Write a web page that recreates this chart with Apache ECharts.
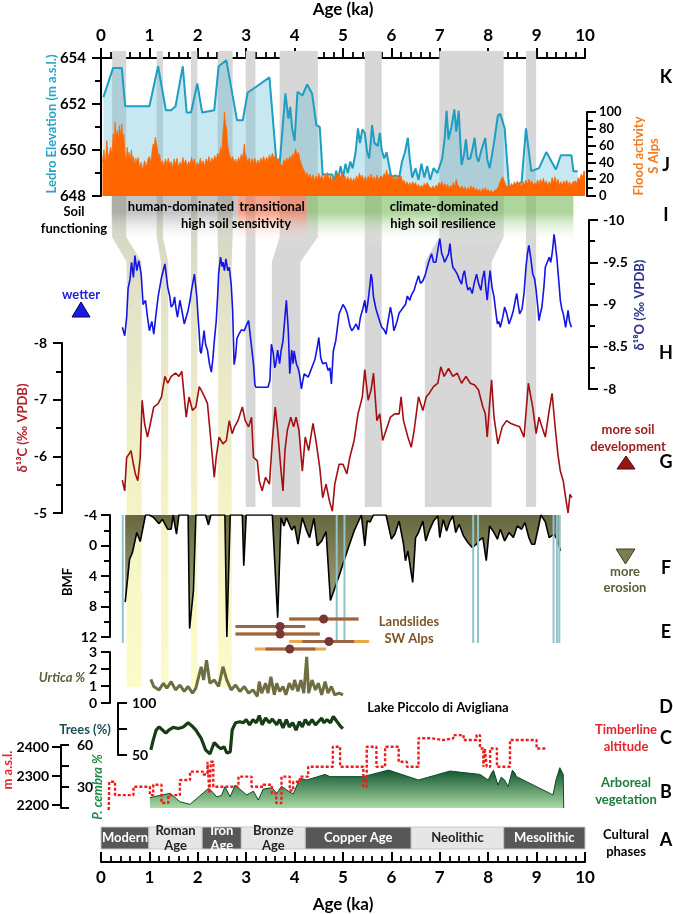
<!DOCTYPE html>
<html><head><meta charset="utf-8">
<script src="https://cdn.jsdelivr.net/npm/echarts@6/dist/echarts.min.js"></script>
<style>html,body{margin:0;padding:0;background:#fff}#c{width:673px;height:914px}</style>
</head><body><div id="c"></div>
<script>
const FONT = 'Lato, "Open Sans", "DejaVu Sans", sans-serif';

// ---------------- DATA ----------------
const ledro = [[0.05,652.3],[0.25,653.57],[0.43,653.57],[0.5,651.9],[1.0,651.9],[1.18,653.64],[1.34,651.73],[1.45,651.73],[1.54,651.9],[1.69,653.64],[1.77,651.63],[1.86,651.63],[1.99,652.89],[2.09,651.63],[2.34,651.73],[2.43,653.64],[2.59,653.9],[2.81,651.29],[2.93,651.29],[3.03,652.5],[3.2,652.74],[3.48,653.16],[3.63,649.35],[3.69,649.35],[3.81,652.46],[3.87,651.36],[3.91,651.87],[3.95,650.94],[4.0,650.39],[4.06,652.53],[4.16,652.37],[4.26,652.85],[4.36,652.46],[4.45,651.08],[4.52,651.0],[4.58,648.94],[4.78,648.94],[4.82,648.6],[4.86,649.1],[4.9,648.7],[4.95,649.3],[5.0,648.8],[5.05,649.4],[5.1,649.0],[5.15,649.5],[5.2,649.2],[5.26,649.9],[5.31,650.94],[5.35,650.3],[5.4,650.9],[5.45,650.74],[5.5,649.9],[5.54,649.63],[5.58,650.5],[5.6,651.08],[5.65,650.3],[5.72,650.18],[5.76,650.74],[5.8,650.0],[5.85,649.63],[5.9,649.9],[5.94,649.84],[6.0,648.8],[6.08,648.9],[6.16,648.8],[6.22,649.5],[6.28,649.9],[6.34,650.53],[6.38,649.6],[6.43,648.8],[6.5,649.2],[6.56,648.7],[6.62,649.4],[6.68,648.8],[6.74,649.3],[6.8,648.7],[6.87,649.21],[6.95,649.0],[7.05,649.63],[7.1,650.5],[7.14,651.7],[7.18,650.46],[7.24,651.0],[7.3,651.77],[7.34,650.8],[7.39,651.7],[7.45,649.35],[7.5,649.8],[7.54,650.46],[7.58,649.6],[7.63,649.63],[7.68,650.1],[7.72,650.53],[7.76,649.7],[7.8,649.49],[7.86,650.0],[7.94,650.53],[7.98,649.6],[8.03,649.21],[8.08,649.8],[8.12,650.32],[8.2,651.5],[8.25,651.57],[8.34,650.94],[8.43,648.38],[8.69,648.59],[8.78,650.94],[8.89,649.08],[9.05,649.21],[9.2,649.91],[9.4,649.15],[9.5,649.77],[9.72,649.77],[9.76,649.08],[9.85,649.08]];

const flood = [[0.03,40],[0.06,55],[0.09,38],[0.12,66],[0.15,45],[0.18,52],[0.2,58],[0.23,48],[0.25,74],[0.27,60],[0.29,88],[0.31,72],[0.34,78],[0.36,65],[0.38,84],[0.41,70],[0.43,86],[0.45,68],[0.47,74],[0.5,47],[0.52,40],[0.54,58],[0.56,45],[0.58,52],[0.6,43],[0.63,55],[0.65,42],[0.67,47],[0.7,36],[0.72,45],[0.74,39],[0.77,46],[0.8,33],[0.83,40],[0.86,31],[0.9,42],[0.94,35],[0.97,44],[1.0,47],[1.03,40],[1.06,55],[1.08,62],[1.1,58],[1.12,70],[1.14,64],[1.16,58],[1.19,46],[1.21,50],[1.24,38],[1.27,42],[1.3,35],[1.33,44],[1.36,38],[1.39,45],[1.42,36],[1.45,41],[1.48,33],[1.51,44],[1.54,37],[1.57,45],[1.6,34],[1.63,40],[1.66,36],[1.69,46],[1.72,38],[1.75,43],[1.78,35],[1.81,41],[1.84,37],[1.87,46],[1.9,39],[1.93,44],[1.96,33],[1.99,40],[2.02,36],[2.05,45],[2.08,38],[2.11,42],[2.14,35],[2.17,44],[2.2,40],[2.23,47],[2.26,39],[2.29,45],[2.32,41],[2.35,48],[2.38,43],[2.41,51],[2.44,46],[2.47,58],[2.5,52],[2.52,74],[2.54,88],[2.55,100],[2.57,86],[2.59,82],[2.61,66],[2.63,55],[2.66,48],[2.69,43],[2.72,47],[2.75,40],[2.78,44],[2.81,38],[2.84,46],[2.87,41],[2.9,50],[2.93,45],[2.96,62],[2.98,50],[3.0,47],[3.03,40],[3.06,45],[3.09,38],[3.12,44],[3.15,40],[3.18,45],[3.21,37],[3.24,43],[3.27,38],[3.3,45],[3.33,41],[3.36,47],[3.39,40],[3.42,46],[3.45,42],[3.48,49],[3.51,44],[3.54,51],[3.57,45],[3.6,48],[3.63,42],[3.66,45],[3.69,38],[3.72,40],[3.75,36],[3.78,43],[3.81,40],[3.84,45],[3.87,42],[3.9,47],[3.93,44],[3.96,50],[3.99,47],[4.02,56],[4.05,49],[4.08,52],[4.11,43],[4.14,38],[4.17,33],[4.2,30],[4.23,24],[4.26,28],[4.29,21],[4.32,26],[4.35,20],[4.38,25],[4.41,18],[4.44,24],[4.47,19],[4.5,27],[4.53,20],[4.56,25],[4.59,18],[4.62,26],[4.65,21],[4.68,28],[4.71,19],[4.74,24],[4.77,17],[4.8,23],[4.83,18],[4.86,26],[4.89,20],[4.92,27],[4.95,21],[4.98,28],[5.01,19],[5.04,24],[5.07,18],[5.1,23],[5.13,17],[5.16,22],[5.19,16],[5.22,21],[5.25,17],[5.28,24],[5.31,19],[5.34,27],[5.37,21],[5.4,25],[5.43,18],[5.46,23],[5.49,17],[5.52,24],[5.55,20],[5.58,26],[5.61,19],[5.64,23],[5.67,18],[5.7,25],[5.73,20],[5.76,19],[5.79,24],[5.82,21],[5.85,27],[5.88,24],[5.9,31],[5.93,23],[5.96,27],[5.99,20],[6.02,25],[6.05,18],[6.08,23],[6.11,19],[6.14,25],[6.17,20],[6.2,24],[6.23,16],[6.26,19],[6.29,13],[6.32,17],[6.35,12],[6.38,16],[6.41,12],[6.44,17],[6.47,13],[6.5,16],[6.53,10],[6.56,14],[6.59,9],[6.62,13],[6.65,10],[6.68,15],[6.71,11],[6.74,16],[6.77,12],[6.8,14],[6.83,9],[6.86,12],[6.89,8],[6.92,13],[6.95,10],[6.98,16],[7.01,12],[7.04,17],[7.07,11],[7.1,15],[7.13,10],[7.16,14],[7.19,8],[7.22,13],[7.25,9],[7.28,16],[7.31,11],[7.34,20],[7.37,13],[7.4,15],[7.43,9],[7.46,12],[7.49,7],[7.52,11],[7.55,6],[7.58,10],[7.61,7],[7.64,12],[7.67,8],[7.7,11],[7.73,6],[7.76,9],[7.79,5],[7.82,8],[7.85,4],[7.88,9],[7.91,6],[7.94,10],[7.97,5],[8.0,8],[8.03,4],[8.06,7],[8.09,3],[8.12,6],[8.15,4],[8.18,8],[8.21,11],[8.24,16],[8.27,20],[8.3,23],[8.33,18],[8.36,14],[8.39,10],[8.42,13],[8.45,9],[8.48,15],[8.51,11],[8.54,17],[8.57,12],[8.6,18],[8.63,13],[8.66,16],[8.69,11],[8.72,17],[8.75,13],[8.78,19],[8.81,14],[8.84,20],[8.87,15],[8.9,18],[8.93,12],[8.96,16],[8.99,13],[9.02,19],[9.05,14],[9.08,20],[9.11,15],[9.14,21],[9.17,14],[9.2,18],[9.23,12],[9.26,17],[9.29,13],[9.32,22],[9.35,16],[9.38,23],[9.41,15],[9.44,20],[9.47,13],[9.5,17],[9.53,12],[9.56,18],[9.59,14],[9.62,19],[9.65,13],[9.68,17],[9.71,12],[9.74,16],[9.77,14],[9.8,18],[9.83,15],[9.86,22],[9.89,19],[9.92,26],[9.95,22],[9.98,30],[10.0,27]];

const d18O = [[0.44,-8.73],[0.49,-8.63],[0.53,-8.85],[0.56,-9.19],[0.6,-9.3],[0.63,-9.5],[0.67,-9.32],[0.7,-9.58],[0.74,-9.4],[0.78,-9.52],[0.83,-9.36],[0.87,-9.0],[0.92,-9.05],[0.96,-8.85],[1.0,-8.69],[1.05,-8.8],[1.09,-8.65],[1.14,-8.9],[1.18,-9.09],[1.25,-9.32],[1.32,-9.48],[1.38,-9.2],[1.42,-9.1],[1.45,-8.97],[1.49,-9.0],[1.52,-9.09],[1.55,-8.95],[1.58,-8.85],[1.63,-9.05],[1.68,-8.9],[1.72,-8.77],[1.76,-8.85],[1.8,-8.93],[1.84,-9.05],[1.87,-9.17],[1.93,-9.36],[1.98,-9.09],[2.0,-8.9],[2.03,-8.65],[2.05,-8.45],[2.07,-8.42],[2.1,-8.55],[2.13,-8.69],[2.16,-8.53],[2.2,-8.46],[2.24,-8.3],[2.28,-8.2],[2.31,-8.35],[2.34,-8.56],[2.38,-8.8],[2.41,-9.1],[2.43,-9.36],[2.47,-9.56],[2.5,-9.45],[2.52,-9.5],[2.55,-9.4],[2.58,-9.54],[2.62,-9.4],[2.65,-9.44],[2.69,-9.24],[2.72,-8.93],[2.75,-8.29],[2.78,-8.39],[2.81,-8.6],[2.85,-8.65],[2.9,-8.7],[2.96,-8.69],[3.0,-8.75],[3.05,-8.81],[3.08,-8.65],[3.11,-8.5],[3.15,-8.3],[3.18,-8.05],[3.2,-8.02],[3.45,-8.02],[3.49,-8.1],[3.52,-8.53],[3.56,-8.42],[3.59,-8.25],[3.61,-8.29],[3.65,-8.46],[3.69,-8.3],[3.72,-8.45],[3.76,-8.57],[3.8,-8.85],[3.83,-9.05],[3.87,-8.69],[3.9,-8.18],[3.94,-8.46],[3.97,-8.3],[3.99,-8.45],[4.02,-8.35],[4.04,-8.29],[4.07,-8.25],[4.1,-8.18],[4.14,-8.0],[4.17,-8.1],[4.2,-8.18],[4.24,-8.2],[4.28,-8.14],[4.32,-8.2],[4.38,-8.29],[4.42,-8.35],[4.47,-8.5],[4.5,-8.61],[4.54,-8.37],[4.58,-8.3],[4.62,-8.29],[4.65,-8.31],[4.69,-8.22],[4.73,-8.25],[4.76,-8.06],[4.8,-8.45],[4.85,-8.57],[4.92,-8.89],[5.0,-9.0],[5.05,-8.95],[5.09,-8.89],[5.14,-8.75],[5.18,-8.69],[5.22,-8.72],[5.27,-8.77],[5.32,-8.7],[5.36,-8.85],[5.41,-8.95],[5.45,-9.05],[5.48,-8.9],[5.52,-9.05],[5.55,-9.2],[5.58,-9.36],[5.6,-9.3],[5.63,-9.09],[5.68,-8.95],[5.72,-8.93],[5.76,-8.8],[5.8,-8.73],[5.85,-8.7],[5.89,-8.65],[5.93,-8.8],[5.98,-8.97],[6.02,-8.85],[6.05,-8.69],[6.09,-8.75],[6.12,-8.81],[6.16,-8.9],[6.2,-8.93],[6.25,-8.97],[6.29,-9.0],[6.33,-9.1],[6.38,-9.05],[6.42,-9.12],[6.47,-9.17],[6.51,-9.25],[6.56,-9.34],[6.6,-9.25],[6.65,-9.28],[6.7,-9.35],[6.74,-9.44],[6.78,-9.52],[6.83,-9.6],[6.87,-9.5],[6.92,-9.5],[6.96,-9.65],[7.0,-9.78],[7.04,-9.6],[7.07,-9.56],[7.1,-9.5],[7.14,-9.5],[7.18,-9.6],[7.21,-9.72],[7.24,-9.55],[7.27,-9.44],[7.32,-9.4],[7.36,-9.36],[7.4,-9.3],[7.45,-9.24],[7.48,-9.35],[7.51,-9.4],[7.55,-9.25],[7.58,-9.17],[7.62,-9.2],[7.67,-9.13],[7.71,-9.25],[7.76,-9.36],[7.8,-9.25],[7.85,-9.17],[7.88,-9.3],[7.92,-9.4],[7.95,-9.2],[7.98,-9.05],[8.01,-9.25],[8.04,-9.4],[8.08,-9.2],[8.12,-9.09],[8.16,-8.9],[8.19,-8.77],[8.22,-8.8],[8.25,-8.73],[8.3,-8.85],[8.34,-8.97],[8.38,-8.9],[8.43,-8.77],[8.48,-8.85],[8.52,-8.93],[8.56,-9.05],[8.59,-9.13],[8.62,-9.0],[8.65,-8.89],[8.7,-8.95],[8.74,-9.13],[8.78,-9.44],[8.81,-9.6],[8.84,-9.7],[8.88,-9.55],[8.92,-9.36],[8.96,-9.3],[8.99,-9.17],[9.02,-9.0],[9.05,-8.81],[9.08,-8.9],[9.11,-8.97],[9.15,-9.2],[9.18,-9.44],[9.22,-9.5],[9.26,-9.56],[9.29,-9.5],[9.32,-9.6],[9.34,-9.7],[9.36,-9.83],[9.38,-9.75],[9.4,-9.64],[9.42,-9.55],[9.44,-9.4],[9.47,-9.2],[9.49,-9.05],[9.52,-8.95],[9.55,-8.89],[9.58,-8.8],[9.6,-8.73],[9.63,-8.85],[9.65,-8.93],[9.68,-8.8],[9.72,-8.73]];

const d13C = [[0.44,-5.58],[0.49,-5.39],[0.53,-5.98],[0.58,-6.04],[0.62,-6.1],[0.67,-5.86],[0.71,-5.69],[0.76,-5.57],[0.81,-5.98],[0.85,-6.99],[0.9,-6.58],[0.96,-6.34],[1.02,-6.58],[1.09,-6.87],[1.18,-6.93],[1.25,-7.05],[1.32,-7.41],[1.38,-7.29],[1.45,-7.41],[1.54,-7.47],[1.61,-7.41],[1.67,-7.5],[1.72,-7.05],[1.76,-6.69],[1.82,-7.05],[1.89,-6.81],[1.96,-6.87],[2.03,-7.23],[2.07,-7.17],[2.14,-7.05],[2.2,-6.93],[2.27,-6.28],[2.34,-5.63],[2.38,-5.98],[2.44,-6.34],[2.52,-6.22],[2.59,-6.28],[2.65,-6.63],[2.71,-6.4],[2.76,-6.52],[2.83,-6.63],[2.92,-6.87],[2.98,-6.63],[3.05,-6.52],[3.11,-6.69],[3.15,-5.98],[3.23,-5.92],[3.27,-5.57],[3.33,-5.39],[3.4,-5.63],[3.48,-5.51],[3.54,-6.28],[3.6,-6.87],[3.65,-6.46],[3.72,-5.74],[3.76,-5.39],[3.8,-6.1],[3.85,-6.46],[3.92,-6.69],[3.98,-6.52],[4.03,-6.69],[4.09,-6.46],[4.16,-5.74],[4.22,-6.34],[4.29,-6.1],[4.38,-6.58],[4.44,-6.28],[4.52,-5.8],[4.58,-5.27],[4.65,-5.51],[4.72,-5.21],[4.78,-5.03],[4.83,-5.51],[4.92,-5.86],[5.0,-5.86],[5.08,-5.69],[5.14,-5.98],[5.23,-6.28],[5.31,-6.75],[5.4,-7.05],[5.45,-7.53],[5.52,-6.99],[5.58,-7.17],[5.63,-7.47],[5.7,-6.63],[5.76,-6.75],[5.82,-6.28],[5.89,-6.46],[5.98,-6.69],[6.07,-6.75],[6.16,-6.75],[6.2,-7.05],[6.25,-6.63],[6.34,-6.34],[6.41,-6.16],[6.47,-6.46],[6.56,-7.05],[6.65,-6.81],[6.72,-7.05],[6.78,-7.11],[6.87,-7.23],[6.96,-7.29],[7.02,-7.58],[7.09,-7.41],[7.18,-7.55],[7.27,-7.41],[7.36,-7.47],[7.45,-7.29],[7.54,-7.41],[7.63,-7.29],[7.72,-7.26],[7.8,-7.17],[7.89,-6.87],[7.94,-6.75],[7.98,-6.34],[8.03,-6.93],[8.07,-7.35],[8.12,-6.69],[8.2,-6.22],[8.29,-6.52],[8.38,-6.63],[8.47,-6.58],[8.56,-6.55],[8.65,-6.52],[8.74,-6.34],[8.83,-7.29],[8.92,-6.87],[8.99,-6.4],[9.05,-6.69],[9.11,-6.52],[9.18,-6.34],[9.26,-6.81],[9.32,-7.11],[9.39,-6.46],[9.44,-6.04],[9.49,-5.74],[9.55,-5.57],[9.6,-5.27],[9.65,-5.0],[9.69,-5.33],[9.73,-5.27]];

const bmf = [[0.5,7.43],[0.59,1.78],[0.65,0.91],[0.74,-1.7],[0.81,-0.52],[0.92,-4],[1.0,-4],[1.09,-3.65],[1.2,-2.87],[1.27,-3.43],[1.38,-2.13],[1.45,-2.13],[1.49,-4],[1.53,-4],[1.56,-1.48],[1.61,-4],[1.8,-4],[1.83,10.9],[1.91,5.9],[1.96,-4],[2.16,-4],[2.22,-2.7],[2.27,-4],[2.56,-4],[2.6,12],[2.67,-4],[2.92,-4],[2.95,2.65],[3.0,-4],[3.54,-4],[3.65,9.48],[3.72,-3.65],[3.78,-2.57],[3.83,-3.65],[3.94,-2.04],[4.0,-2.57],[4.07,-0.17],[4.16,-3.65],[4.25,-1.91],[4.31,-1.04],[4.4,-3.57],[4.47,0.04],[4.56,-0.61],[4.65,-1.83],[4.74,7.2],[4.92,3.96],[5.1,0.48],[5.23,-1.91],[5.38,-4],[5.45,0.04],[5.5,-3.2],[5.56,-3.1],[5.63,-4],[5.89,-4],[6.0,-0.83],[6.07,-1.48],[6.16,-3.2],[6.25,-0.17],[6.29,2.0],[6.34,0.7],[6.44,4.83],[6.5,-1.04],[6.56,-1.7],[6.65,-3.2],[6.71,-0.6],[6.78,-1.9],[6.87,-3.2],[6.96,-3.87],[7.0,-1.04],[7.07,-3.4],[7.14,-1.9],[7.21,-3.2],[7.27,-3.87],[7.33,-1.7],[7.4,-2.78],[7.49,-1.26],[7.58,-0.39],[7.67,0.26],[7.76,-0.17],[7.8,-0.61],[7.89,-1.04],[7.96,2.0],[8.03,-2.57],[8.12,-1.7],[8.19,-0.83],[8.25,-2.13],[8.34,-0.61],[8.43,-1.7],[8.52,-1.04],[8.6,-2.57],[8.69,-2.13],[8.76,-3.0],[8.84,-1.04],[8.9,-0.17],[8.96,-0.17],[9.02,-1.9],[9.09,-4],[9.18,-3.1],[9.26,-1.04],[9.36,-1.48],[9.44,-0.61],[9.49,0.7]];

const urtica = [[1.03,1.39],[1.09,0.97],[1.2,0.77],[1.29,1.16],[1.36,0.87],[1.45,1.26],[1.54,0.77],[1.63,1.06],[1.72,0.68],[1.8,0.97],[1.89,0.58],[1.96,0.87],[2.0,1.35],[2.07,2.13],[2.12,1.35],[2.18,2.51],[2.25,1.16],[2.34,1.35],[2.43,0.97],[2.52,2.13],[2.6,1.35],[2.69,0.77],[2.78,1.06],[2.87,0.68],[2.96,0.97],[3.05,0.58],[3.14,0.77],[3.23,0.39],[3.27,1.26],[3.32,0.58],[3.4,1.16],[3.45,0.58],[3.51,1.55],[3.58,0.48],[3.63,1.16],[3.69,0.68],[3.76,0.97],[3.82,0.48],[3.89,1.16],[3.96,0.77],[4.0,1.35],[4.07,0.68],[4.13,1.35],[4.19,0.58],[4.25,2.71],[4.29,0.58],[4.36,1.35],[4.43,0.77],[4.49,1.16],[4.56,0.48],[4.63,1.26],[4.69,0.58],[4.76,0.97],[4.83,0.48],[4.92,0.58],[5.0,0.48]];

const trees = [[1.03,55],[1.08,64.5],[1.14,74],[1.2,77],[1.27,74],[1.34,71],[1.4,74],[1.49,76.5],[1.6,75.5],[1.7,77],[1.8,81],[1.88,78],[1.96,74],[2.07,66],[2.16,55],[2.25,51],[2.34,62],[2.42,58],[2.48,56],[2.54,58],[2.6,52],[2.67,53],[2.71,74],[2.78,81],[2.87,82],[2.94,81],[3.0,84],[3.07,79],[3.14,84],[3.21,81],[3.27,88],[3.33,79],[3.4,85.5],[3.48,81],[3.54,84.5],[3.63,79],[3.69,84],[3.76,76],[3.83,84],[3.89,77],[3.96,81],[4.03,74],[4.1,82],[4.16,77],[4.22,84],[4.29,79],[4.36,84],[4.43,79],[4.49,82],[4.56,85.5],[4.6,81],[4.67,84],[4.74,81],[4.8,87],[4.87,82.5],[4.96,77],[5.0,75.5]];

const timberline = [[0.16,2183],[0.17,2280],[0.29,2234],[0.67,2263],[1.01,2234],[1.08,2270],[1.25,2207],[1.39,2234],[1.63,2286],[1.84,2315],[2.11,2305],[2.2,2349],[2.24,2240],[2.27,2349],[2.32,2263],[2.84,2298],[3.11,2263],[3.35,2270],[3.53,2240],[3.62,2207],[3.73,2298],[3.9,2250],[3.97,2280],[4.11,2298],[4.28,2332],[4.79,2401],[4.94,2332],[5.42,2263],[5.49,2401],[5.69,2332],[5.87,2401],[6.15,2349],[6.32,2332],[6.56,2430],[6.83,2424],[7.07,2430],[7.28,2441],[7.49,2424],[7.76,2441],[7.83,2395],[7.9,2332],[7.93,2395],[7.97,2332],[8.04,2395],[8.18,2332],[8.45,2424],[9.0,2395],[9.2,2395]];

const pCembra = [[1.01,22.4],[1.43,25.5],[1.63,19.5],[1.84,17.6],[2.22,29],[2.29,27],[2.39,23],[2.49,24],[2.56,30.2],[2.67,23],[2.77,31.4],[3.01,24.3],[3.15,27],[3.25,20.7],[3.35,28.5],[3.53,29.5],[3.63,25.5],[3.73,30.5],[3.87,27],[3.97,25],[4.11,36.2],[4.25,35],[4.63,39],[4.73,37.4],[5.42,37.4],[5.94,42.1],[6.56,35],[7.21,41.4],[7.83,39],[8.0,35],[8.07,40],[8.11,42],[8.17,35],[8.2,31.4],[8.27,37],[8.34,35],[8.41,30.2],[8.5,42],[8.55,40],[8.58,37.5],[9.34,24.3],[9.4,35],[9.48,43.8],[9.55,39],[9.56,15]];

const landslideMid = [4.6, 3.7, 3.7, 4.71, 3.9];
const landslideOuterLo = [3.89, 2.78, 2.78, 3.89, 3.18];
const landslideOuterHi = [5.32, 4.22, 4.52, 5.54, 4.65];
const landslideInnerLo = [3.89, 2.78, 2.78, 4.16, 3.4];
const landslideInnerHi = [5.32, 4.22, 4.52, 5.23, 4.43];

const cultStart = [0, 0.99, 2.09, 2.9, 4.22, 6.41, 8.32];
const cultEnd = [0.99, 2.09, 2.9, 4.22, 6.41, 8.32, 10];
const cultName = ['Modern', 'Roman\nAge', 'Iron\nAge', 'Bronze\nAge', 'Copper Age', 'Neolithic', 'Mesolithic'];
const cultDark = [1, 0, 1, 0, 1, 0, 1];

const soilStart = [0.22, 2.83, 4.25];
const soilEnd = [2.83, 4.25, 9.76];
const soilColor = ['rgba(140,140,140,0.5)', 'rgba(240,105,65,0.6)', 'rgba(120,185,90,0.6)'];

const grayK1 = [2.99, 3.69, 5.45, 6.99, 8.78], grayK2 = [3.19, 4.48, 5.80, 8.32, 8.99];
const grayH1 = [2.99, 3.53, 5.45, 6.69, 8.78], grayH2 = [3.19, 4.12, 5.80, 8.07, 8.99];
const yellowK1 = [0.23, 1.15, 1.86, 2.41], yellowK2 = [0.52, 1.28, 1.99, 2.72];
const yellowH1 = [0.53, 1.24, 1.86, 2.42], yellowH2 = [0.84, 1.39, 1.99, 2.70];
const cyanLines = [0.45, 4.87, 5.03, 7.69, 7.79, 9.35, 9.42, 9.47];

// ---------------- LAYOUT ----------------
const L = 101, R = 88;
const gridDefs = [
  [0, 914],     // 0 overlay
  [51, 145],    // 1 K Ledro
  [112, 84],    // 2 J flood
  [220, 169],   // 3 H d18O
  [343, 170],   // 4 G d13C
  [515, 122],   // 5 F BMF
  [615.25, 37.5], // 6 E landslides
  [652, 51],    // 7 D urtica
  [703, 52],    // 8 C trees
  [747, 58],    // 9 timberline
  [745, 63],    // 10 P cembra
  [827, 30]     // 11 cultural
];
const grids = gridDefs.map(g => ({left: L, right: R, top: g[0], height: g[1]}));

const BLK = '#000';
function ax(o) {
  return {
    gridIndex: o.g, type: 'value', min: o.min, max: o.max, interval: o.interval,
    position: o.position || 'left', inverse: !!o.inverse, offset: o.offset || 0,
    splitLine: {show: false},
    axisLine: {show: true, onZero: false, lineStyle: {color: BLK, width: 2}},
    axisTick: {show: true, inside: !!o.inside, length: o.tickLen || 9, lineStyle: {color: BLK, width: 2}},
    minorTick: {show: !!o.minor, splitNumber: o.minor || 5, length: o.minorLen || 6, lineStyle: {color: BLK, width: 2}},
    axisLabel: {show: true, inside: !!o.inside, margin: o.margin || 12, color: BLK, fontSize: o.fs || 14,
      fontWeight: 'bold', fontFamily: FONT, formatter: o.formatter || (v => String(v))}
  };
}

const xAxes = grids.map((g, i) => ({gridIndex: i, type: 'value', min: 0, max: 10, show: false}));
const xCommon = {
  type: 'value', min: 0, max: 10, interval: 1,
  splitLine: {show: false},
  axisLine: {show: true, onZero: false, lineStyle: {color: BLK, width: 2}},
  minorTick: {show: true, splitNumber: 5, length: 6, lineStyle: {color: BLK, width: 1.8}},
  nameLocation: 'middle',
  nameTextStyle: {fontSize: 17, fontWeight: 'bold', fontFamily: FONT, color: BLK},
  name: 'Age (ka)'
};
xAxes[1] = Object.assign({}, xCommon, {
  gridIndex: 1, position: 'top', show: true,
  axisTick: {show: true, length: 10, lineStyle: {color: BLK, width: 2}},
  axisLabel: {margin: 14, fontSize: 17, fontWeight: 'bold', fontFamily: FONT, color: BLK},
  nameGap: 40
});
xAxes[11] = Object.assign({}, xCommon, {
  gridIndex: 11, position: 'bottom', offset: 13, show: true,
  axisTick: {show: true, inside: true, length: 10, lineStyle: {color: BLK, width: 2}},
  minorTick: {show: true, splitNumber: 5, length: 6, lineStyle: {color: BLK, width: 1.8}},
  axisLabel: {margin: 7, fontSize: 17, fontWeight: 'bold', fontFamily: FONT, color: BLK},
  nameGap: 34
});

const yAxes = [
  {gridIndex: 0, type: 'value', min: 0, max: 914, inverse: true, show: false},
  ax({g: 1, min: 648, max: 654, interval: 2, minor: 2, margin: 15, fs: 15}),
  ax({g: 2, min: 0, max: 100, interval: 20, minor: 2, position: 'right', offset: 2, margin: 12, fs: 13}),
  ax({g: 3, min: -10, max: -8, interval: 0.5, minor: 2, position: 'right', inverse: true, offset: 4, margin: 14}),
  ax({g: 4, min: -8, max: -5, interval: 1, minor: 2, inverse: true, offset: 39, margin: 15}),
  ax({g: 5, min: -4, max: 12, interval: 4, minor: 2, inverse: true, offset: -9, margin: 13}),
  {gridIndex: 6, type: 'value', min: -0.5, max: 4.5, inverse: true, show: false},
  ax({g: 7, min: 0, max: 3, interval: 1, offset: -9, margin: 13}),
  ax({g: 8, min: 50, max: 100, interval: 25, offset: -17, inside: true, margin: 14,
      formatter: v => (v === 75 ? '' : String(v))}),
  ax({g: 9, min: 2200, max: 2400, interval: 100, offset: 40, margin: 12}),
  ax({g: 10, min: 15, max: 60, interval: 15, offset: 40, inside: true, tickLen: 8, margin: 16,
      formatter: v => ((v === 30 || v === 60) ? String(v) : '')}),
  {gridIndex: 11, type: 'value', min: 0, max: 1, show: false}
];

const G = echarts.graphic;
// ---------------- SERIES ----------------
const series = [];

// gray climate bands (K -> H/G)
series.push({
  type: 'custom', xAxisIndex: 0, yAxisIndex: 0, z: 1, silent: true,
  data: grayK1.map((v, i) => [v, grayK2[i], grayH1[i], grayH2[i]]),
  renderItem: (p, api) => {
    const a1 = api.value(0), b1 = api.value(1), a2 = api.value(2), b2 = api.value(3);
    const P = (x, y) => api.coord([x, y]);
    return {type: 'polygon', shape: {points: [P(a1, 51), P(b1, 51), P(b1, 237), P(b2, 262), P(b2, 507), P(a2, 507), P(a2, 262), P(a1, 237)]},
      style: {fill: '#d7d7d7'}};
  }
});
// yellow (human) bands
series.push({
  type: 'custom', xAxisIndex: 0, yAxisIndex: 0, z: 1, silent: true,
  data: yellowK1.map((v, i) => [v, yellowK2[i], yellowH1[i], yellowH2[i]]),
  renderItem: (p, api) => {
    const a1 = api.value(0), b1 = api.value(1), a2 = api.value(2), b2 = api.value(3);
    const P = (x, y) => api.coord([x, y]);
    return {type: 'group', children: [
      {type: 'polygon', shape: {points: [P(a1, 51), P(b1, 51), P(b1, 197), P(a1, 197)]}, style: {fill: '#d7d7d7'}},
      {type: 'polygon', shape: {points: [P(a1, 196), P(b1, 196), P(b1, 237), P(b2, 262), P(b2, 687), P(a2, 687), P(a2, 262), P(a1, 237)]},
        style: {fill: new G.LinearGradient(0, 0, 0, 1, [
          {offset: 0, color: '#cfcfc2'}, {offset: 0.2, color: '#e2e2c9'}, {offset: 0.55, color: '#f1f1c6'}, {offset: 1, color: '#fcfcc9'}])}}
    ]};
  }
});
// soil functioning band
series.push({
  type: 'custom', xAxisIndex: 0, yAxisIndex: 0, z: 1, silent: true,
  data: soilStart.map((v, i) => [v, soilEnd[i], i]),
  renderItem: (p, api) => {
    const s = api.value(0), e = api.value(1), k = api.value(2);
    const p0 = api.coord([s, 196]), p1 = api.coord([e, 244]);
    return {type: 'rect', shape: {x: p0[0], y: p0[1], width: p1[0] - p0[0], height: p1[1] - p0[1]},
      style: {fill: new G.LinearGradient(0, 0, 0, 1, [{offset: 0, color: soilColor[k]}, {offset: 0.35, color: soilColor[k]}, {offset: 1, color: 'rgba(255,255,255,0)'}])}};
  }
});

// K Ledro
series.push({type: 'line', xAxisIndex: 1, yAxisIndex: 1, z: 3, data: ledro, symbol: 'none', silent: true,
  lineStyle: {color: '#1e9ec2', width: 2}, areaStyle: {color: 'rgba(95,190,216,0.5)', origin: 'start'}});
// J flood
series.push({type: 'line', xAxisIndex: 2, yAxisIndex: 2, z: 4, data: flood, symbol: 'none', silent: true,
  lineStyle: {color: '#ff6600', width: 0.8}, areaStyle: {color: '#ff6600', opacity: 1, origin: 'start'}});
// H d18O
series.push({type: 'line', xAxisIndex: 3, yAxisIndex: 3, z: 3, data: d18O, symbol: 'none', silent: true,
  lineStyle: {color: '#1414e6', width: 1.6}});
// G d13C
series.push({type: 'line', xAxisIndex: 4, yAxisIndex: 4, z: 3, data: d13C, symbol: 'none', silent: true,
  lineStyle: {color: '#a30f12', width: 1.6}});
// F BMF
series.push({type: 'line', xAxisIndex: 5, yAxisIndex: 5, z: 3, data: bmf, symbol: 'none', silent: true,
  lineStyle: {color: '#000', width: 1.6},
  areaStyle: {origin: 'start', opacity: 1, color: new G.LinearGradient(0, 0, 0, 1, [{offset: 0, color: '#67673f'}, {offset: 1, color: '#b4b48f'}])}});
// cyan lines in F
series.push({
  type: 'custom', xAxisIndex: 0, yAxisIndex: 0, z: 5, silent: true,
  data: cyanLines.map(v => [v]),
  renderItem: (p, api) => {
    const a = api.coord([api.value(0), 515]), b = api.coord([api.value(0), 643]);
    return {type: 'line', shape: {x1: a[0], y1: a[1], x2: b[0], y2: b[1]}, style: {stroke: '#8fc4cb', lineWidth: 2}};
  }
});
// E landslides
series.push({
  type: 'custom', xAxisIndex: 6, yAxisIndex: 6, z: 5, silent: true,
  data: landslideMid.map((m, i) => [m, i, landslideOuterLo[i], landslideOuterHi[i], landslideInnerLo[i], landslideInnerHi[i]]),
  renderItem: (p, api) => {
    const row = api.value(1);
    const c = api.coord([api.value(0), row]);
    const o1 = api.coord([api.value(2), row]), o2 = api.coord([api.value(3), row]);
    const i1 = api.coord([api.value(4), row]), i2 = api.coord([api.value(5), row]);
    return {type: 'group', children: [
      {type: 'line', shape: {x1: o1[0], y1: o1[1], x2: o2[0], y2: o2[1]}, style: {stroke: '#eaa84a', lineWidth: 3}},
      {type: 'line', shape: {x1: i1[0], y1: i1[1], x2: i2[0], y2: i2[1]}, style: {stroke: '#9a6644', lineWidth: 3}},
      {type: 'circle', shape: {cx: c[0], cy: c[1], r: 4.5}, style: {fill: '#7a3535'}}
    ]};
  }
});
// D Urtica
series.push({type: 'line', xAxisIndex: 7, yAxisIndex: 7, z: 3, data: urtica, symbol: 'none', silent: true,
  lineStyle: {color: '#6e6e42', width: 3}});
// C Trees
series.push({type: 'line', xAxisIndex: 8, yAxisIndex: 8, z: 3, data: trees, symbol: 'none', silent: true,
  lineStyle: {color: '#173d17', width: 3.2}});
// B Arboreal (P. cembra)
series.push({type: 'line', xAxisIndex: 10, yAxisIndex: 10, z: 2, data: pCembra, symbol: 'none', silent: true,
  lineStyle: {color: '#0b4a27', width: 1},
  areaStyle: {origin: 'start', opacity: 1, color: new G.LinearGradient(0, 0, 0, 1, [{offset: 0, color: '#0b4d29'}, {offset: 1, color: '#a9dba4'}])}});
// Timberline
series.push({type: 'line', xAxisIndex: 9, yAxisIndex: 9, z: 4, data: timberline, step: 'end', symbol: 'none', silent: true,
  clip: false, lineStyle: {color: '#f01c1c', width: 2.4, type: [3, 2]}});
// A Cultural phases
series.push({
  type: 'custom', xAxisIndex: 11, yAxisIndex: 11, z: 3, silent: true,
  data: cultStart.map((s, i) => [s, cultEnd[i], i]),
  renderItem: (p, api) => {
    const i = api.value(2);
    const p0 = api.coord([api.value(0), 1]), p1 = api.coord([api.value(1), 0]);
    const dark = cultDark[i] === 1;
    return {type: 'group', children: [
      {type: 'rect', shape: {x: p0[0], y: p0[1], width: p1[0] - p0[0], height: p1[1] - p0[1]},
        style: {fill: dark ? '#575757' : '#e6e6e6', stroke: '#c8c8c8', lineWidth: 1}},
      {type: 'text', x: (p0[0] + p1[0]) / 2, y: (p0[1] + p1[1]) / 2,
        style: {text: cultName[i], align: 'center', verticalAlign: 'middle', textAlign: 'center', textVerticalAlign: 'middle',
          fill: dark ? '#fff' : '#222', fontSize: 13, fontWeight: 'bold', fontFamily: FONT, lineHeight: 15}}
    ]};
  }
});

// ---------------- ANNOTATIONS ----------------
function T(text, x, y, o) {
  o = o || {};
  return {type: 'text', x: x, y: y, z: 100, rotation: o.rot || 0, silent: true,
    style: {text: text, align: 'center', verticalAlign: 'middle', textAlign: 'center', textVerticalAlign: 'middle',
      fill: o.color || '#000', fontSize: o.size || 13, fontWeight: o.weight || 'bold', fontStyle: o.italic ? 'italic' : 'normal',
      fontFamily: FONT}};
}
const ROT = Math.PI / 2;
const graphics = [
  T('Ledro Elevation (m a.s.l.)', 52, 124, {rot: ROT, color: '#27a4c6'}),
  T('Flood activity', 639, 156, {rot: ROT, color: '#f07b20'}),
  T('S Alps', 654, 156, {rot: ROT, color: '#f07b20'}),
  T('δ¹⁸O (‰ VPDB)', 640, 305, {rot: ROT, color: '#2d2f8e'}),
  T('δ¹³C (‰ VPDB)', 23, 428, {rot: ROT, color: '#b3202a'}),
  T('BMF', 68, 582, {rot: ROT}),
  T('m a.s.l.', 8, 770, {rot: ROT, color: '#e3262d'}),
  T('P. cembra %', 98, 787, {rot: ROT, color: '#1f8a45', italic: true}),
  T('Urtica %', 62, 678, {italic: true, color: '#5e5e38'}),
  T('Trees (%)', 85, 730, {color: '#1e4f55'}),
  T('Soil', 74, 212), T('functioning', 74, 229),
  T('human-dominated', 181, 207), T('high soil sensitivity', 236, 224),
  T('transitional', 272, 207),
  T('climate-dominated', 444, 207), T('high soil resilience', 443, 224),
  T('wetter', 81, 295, {color: '#2222dd'}),
  T('more soil', 628, 430, {color: '#9b1c1c'}), T('development', 628, 447, {color: '#9b1c1c'}),
  T('more', 625, 572, {color: '#5e5e38'}), T('erosion', 625, 588, {color: '#5e5e38'}),
  T('Landslides', 409, 622, {color: '#7f5326'}), T('SW Alps', 409, 639, {color: '#7f5326'}),
  T('Lake Piccolo di Avigliana', 438, 708, {weight: 'bold'}),
  T('Timberline', 626, 730, {color: '#e3262d'}), T('altitude', 626, 747, {color: '#e3262d'}),
  T('Arboreal', 626, 783, {color: '#1e7d3e'}), T('vegetation', 626, 800, {color: '#1e7d3e'}),
  T('Cultural', 626, 835), T('phases', 626, 852),
  {type: 'polygon', z: 100, silent: true, shape: {points: [[72, 317], [90, 317], [81, 302]]}, style: {fill: '#1a1ae0', stroke: '#000066', lineWidth: 1}},
  {type: 'polygon', z: 100, silent: true, shape: {points: [[617, 469], [635, 469], [626, 456]]}, style: {fill: '#9b1414', stroke: '#4a0a0a', lineWidth: 1}},
  {type: 'polygon', z: 100, silent: true, shape: {points: [[616, 549], [635, 549], [625.5, 564]]}, style: {fill: '#7d7d52', stroke: '#3e3e28', lineWidth: 1}}
];
['K', 'J', 'I', 'H', 'G', 'F', 'E', 'D', 'C', 'B', 'A'].forEach((l, i) => {
  const ys = [77, 165, 215, 353, 462, 568, 632, 707, 738, 792, 840];
  graphics.push(T(l, 666, ys[i], {size: 18}));
});

const chart = echarts.init(document.getElementById('c'), null, {renderer: 'canvas'});
chart.setOption({
  animation: false,
  backgroundColor: '#fff',
  grid: grids,
  xAxis: xAxes,
  yAxis: yAxes,
  series: series,
  graphic: graphics
});
</script>
</body></html>
